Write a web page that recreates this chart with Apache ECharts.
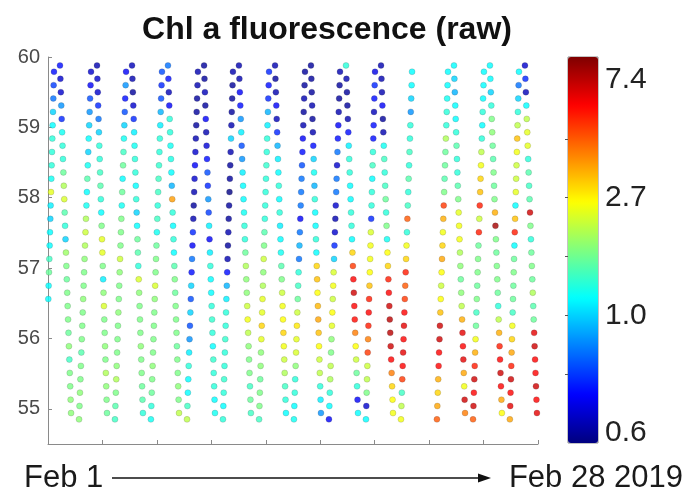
<!DOCTYPE html>
<html><head><meta charset="utf-8">
<script src="https://cdn.jsdelivr.net/npm/echarts@6/dist/echarts.min.js"></script>
<style>html,body{margin:0;padding:0;background:#fff}#c{width:685px;height:500px}</style>
</head><body><div id="c"></div>
<script>
// Sampling latitudes (north to south) for southbound and northbound crossings
const latsSouthbound = [59.88, 59.69, 59.50, 59.31, 59.12, 58.93, 58.74, 58.55, 58.36, 58.17, 57.98, 57.79, 57.60, 57.41, 57.22, 57.03, 56.84, 56.65, 56.46, 56.27, 56.08, 55.89, 55.70, 55.51, 55.32, 55.13, 54.94];
const latsNorthbound = [59.79, 59.60, 59.41, 59.22, 59.03, 58.84, 58.65, 58.46, 58.27, 58.08, 57.89, 57.70, 57.51, 57.32, 57.13, 56.94, 56.75, 56.56, 56.37, 56.18, 55.99, 55.80, 55.61, 55.42, 55.23, 55.04, 54.85];
// Direction of each crossing: 'N' northbound, 'S' southbound
const tripDir = ['N', 'S', 'N', 'S', 'N', 'S', 'N', 'S', 'N', 'S', 'N', 'S', 'N', 'S', 'N', 'S', 'N', 'S', 'N', 'S', 'N', 'N', 'S', 'N', 'S', 'N', 'S'];
// Day (since Feb 1) at which each crossing is at its northern / southern end
const tripTopDay = [0.33, 0.66, 2.37, 2.70, 4.30, 4.63, 6.28, 6.61, 8.26, 8.60, 10.19, 10.52, 12.18, 12.51, 14.16, 14.49, 16.09, 16.42, 18.02, 18.35, 20.06, 22.04, 22.37, 24.02, 24.35, 25.95, 26.28];
const tripBottomDay = [-0.15, 1.27, 1.71, 3.25, 3.69, 5.23, 5.67, 7.22, 7.66, 9.20, 9.64, 11.18, 11.63, 13.11, 13.55, 15.04, 15.48, 17.08, 17.52, 19.01, 19.45, 21.43, 22.98, 23.42, 25.01, 25.45, 26.94];
// Chl a fluorescence (raw) per crossing, listed north to south
const chlTrips = [
  [0.72, 0.78, 0.85, 1.0, 1.15, 1.3, 1.3, 1.3, 1.2, 2.4, 1.1, 1.0, 1.15, 1.15, 1.4, 1.6, 1.15, 1.15],
  [0.72, 0.65, 0.65, 0.9, 0.75, 1.2, 1.3, 1.3, 1.6, 2.0, 2.3, 1.5, 1.3, 1.0, 1.9, 1.7, 1.6, 1.7, 1.7, 1.7, 1.6, 1.8, 1.4, 1.7, 1.7, 1.8, 1.8],
  [0.65, 0.7, 0.8, 0.9, 1.0, 1.15, 1.0, 1.2, 1.5, 1.15, 1.2, 2.0, 2.2, 2.0, 1.8, 1.7, 1.7, 1.8, 1.7, 1.7, 1.7, 1.5, 1.7, 1.7, 1.8, 1.7, 1.8],
  [0.62, 0.65, 0.65, 0.75, 0.85, 1.0, 1.3, 1.3, 1.4, 1.5, 1.3, 1.15, 1.7, 2.4, 2.4, 1.7, 1.1, 1.8, 2.3, 1.7, 1.7, 1.8, 1.7, 2.0, 1.8, 1.7, 1.6],
  [0.7, 0.9, 0.72, 0.8, 1.0, 1.2, 1.4, 1.6, 1.15, 1.6, 1.2, 1.7, 1.7, 1.7, 2.2, 1.8, 1.7, 1.7, 1.8, 1.7, 1.7, 1.7, 1.8, 2.0, 1.7, 1.5, 1.4],
  [0.63, 0.62, 0.6, 0.65, 0.75, 1.1, 1.2, 1.3, 1.3, 1.15, 1.3, 1.0, 1.15, 1.6, 1.5, 1.3, 2.3, 1.8, 1.7, 1.7, 1.7, 1.8, 1.7, 1.7, 1.6, 1.5, 1.3],
  [0.8, 0.75, 0.8, 0.95, 1.1, 1.3, 1.3, 1.35, 1.4, 1.4, 1.3, 1.4, 1.2, 1.6, 1.7, 1.7, 2.3, 1.8, 1.7, 1.7, 1.7, 1.7, 1.8, 1.7, 1.6, 1.3, 1.2],
  [0.85, 0.72, 0.63, 0.7, 1.3, 1.3, 1.2, 1.25, 1.15, 0.95, 3.6, 1.3, 1.15, 1.3, 1.15, 1.5, 1.7, 1.6, 1.7, 1.7, 1.7, 1.6, 1.7, 1.7, 1.8, 1.7, 2.1],
  [0.62, 0.62, 0.6, 0.6, 0.6, 0.62, 0.65, 0.7, 0.65, 0.62, 0.6, 0.62, 0.75, 0.7, 0.85, 0.72, 1.0, 0.8, 1.0, 0.8, 0.9, 1.1, 1.3, 1.15, 1.15, 1.4, 2.1],
  [0.6, 0.6, 0.63, 0.6, 0.7, 0.62, 0.66, 0.72, 0.8, 0.75, 0.9, 0.78, 1.1, 0.7, 1.1, 1.3, 1.15, 1.15, 1.3, 1.35, 1.3, 1.15, 1.35, 1.3, 1.3, 1.15, 1.2],
  [0.62, 0.6, 0.6, 0.6, 0.62, 1.0, 0.62, 0.6, 0.6, 0.58, 0.6, 0.6, 0.62, 0.6, 0.62, 0.72, 0.95, 1.1, 1.3, 1.3, 1.35, 1.3, 1.3, 1.35, 1.3, 1.15, 1.3],
  [0.62, 0.62, 0.7, 0.72, 0.9, 1.1, 0.8, 0.9, 1.1, 1.15, 1.15, 1.2, 1.3, 1.3, 1.6, 2.0, 1.8, 1.8, 2.2, 2.5, 2.1, 1.8, 1.7, 1.7, 1.4, 1.6, 1.4],
  [0.75, 0.72, 0.75, 0.95, 1.1, 1.3, 1.3, 1.35, 1.3, 1.3, 1.3, 1.3, 1.5, 1.7, 2.2, 1.8, 2.0, 2.4, 2.4, 3.0, 2.4, 1.8, 1.8, 1.6, 1.7, 1.7, 1.4],
  [0.62, 0.6, 0.62, 0.7, 0.63, 0.75, 0.95, 1.1, 1.15, 1.3, 1.15, 1.3, 1.1, 1.15, 1.2, 1.5, 1.7, 2.2, 2.5, 2.6, 3.0, 2.5, 2.2, 2.0, 1.4, 1.3, 1.15],
  [0.6, 0.6, 0.62, 0.6, 0.62, 0.7, 0.72, 0.8, 0.85, 0.85, 0.85, 0.7, 0.85, 0.95, 0.85, 1.3, 1.4, 1.6, 2.2, 2.8, 2.4, 2.3, 1.8, 1.3, 1.3, 1.15, 1.2],
  [0.6, 0.6, 0.6, 0.62, 0.6, 0.62, 0.72, 1.0, 1.2, 0.95, 1.3, 1.15, 1.15, 1.3, 1.15, 3.0, 3.2, 2.6, 3.3, 3.5, 3.2, 2.6, 2.2, 2.1, 1.3, 1.1, 0.9],
  [0.62, 0.6, 0.6, 0.62, 0.7, 0.72, 0.85, 0.65, 0.85, 0.85, 0.65, 0.62, 0.65, 0.75, 1.0, 2.3, 2.5, 2.2, 2.6, 2.4, 1.8, 1.7, 2.1, 2.0, 1.3, 1.15, 0.7],
  [1.3, 0.62, 0.6, 0.6, 0.62, 0.72, 1.1, 1.3, 1.3, 1.15, 1.15, 1.3, 1.3, 1.15, 3.0, 5.0, 6.0, 7.0, 6.0, 5.8, 4.0, 2.6, 2.2, 1.6, 1.3, 0.7, 1.15],
  [0.68, 0.75, 0.72, 0.63, 0.72, 0.72, 1.3, 1.4, 1.15, 1.3, 1.3, 0.75, 2.3, 2.5, 2.5, 2.6, 3.2, 5.5, 6.0, 5.5, 4.0, 5.0, 2.2, 2.1, 1.7, 0.65, 1.15],
  [0.62, 0.62, 0.62, 0.7, 0.6, 0.62, 1.2, 1.4, 1.3, 1.4, 1.6, 1.3, 1.7, 1.2, 2.6, 3.0, 5.5, 6.0, 7.0, 7.5, 7.5, 7.0, 6.0, 4.0, 3.0, 2.6, 2.5],
  [1.15, 1.15, 1.0, 0.9, 1.3, 1.3, 1.4, 1.3, 1.5, 1.3, 1.4, 4.5, 1.3, 2.5, 3.0, 5.5, 4.5, 5.0, 6.0, 6.5, 6.0, 6.5, 6.0, 5.0, 1.4, 2.1, 2.5],
  [1.15, 1.15, 1.2, 1.3, 1.3, 2.0, 1.6, 1.6, 1.5, 1.7, 5.0, 3.4, 2.5, 3.0, 3.5, 2.6, 2.2, 2.6, 3.2, 7.0, 7.0, 6.0, 6.0, 3.4, 3.0, 3.5, 4.5],
  [1.15, 1.0, 0.95, 1.15, 1.15, 1.3, 1.5, 1.3, 1.3, 1.5, 1.7, 2.4, 2.5, 2.5, 2.0, 1.8, 1.6, 1.8, 2.1, 3.4, 6.5, 6.0, 6.5, 3.5, 2.5, 7.0, 4.0],
  [1.15, 1.15, 1.15, 1.3, 1.15, 1.3, 2.1, 2.5, 3.0, 3.2, 5.5, 2.2, 5.5, 1.6, 1.7, 1.7, 1.6, 1.7, 1.4, 1.6, 2.5, 3.4, 5.5, 7.0, 6.0, 7.0, 4.5],
  [1.15, 1.15, 1.0, 1.3, 1.7, 1.8, 1.6, 1.5, 1.7, 1.6, 1.7, 3.4, 8.0, 1.7, 1.6, 1.7, 1.7, 1.6, 1.3, 2.1, 3.4, 5.5, 6.0, 7.0, 6.0, 3.5, 2.6],
  [1.15, 0.85, 1.0, 1.3, 2.1, 3.2, 2.5, 2.2, 2.2, 2.4, 1.15, 3.2, 5.5, 1.15, 1.6, 1.7, 1.6, 1.6, 1.4, 2.5, 3.0, 3.5, 5.5, 7.0, 6.0, 6.5, 3.5],
  [0.65, 0.75, 0.63, 1.15, 2.1, 2.4, 2.4, 1.3, 1.5, 1.4, 1.5, 7.0, 1.7, 1.3, 1.6, 1.7, 1.6, 2.0, 1.5, 1.6, 6.5, 7.0, 6.0, 6.0, 7.0, 6.0, 6.5]
];
const colorTickValues = [0.6, 1.0, 2.7, 7.4];
const colorTickLabels = ['0.6', '1.0', '2.7', '7.4'];
const latTicks = [55, 56, 57, 58, 59, 60];

// colour-bar coordinate: log-spaced between the labelled ticks
const LT = colorTickValues.map(Math.log);
function toBar(v) {
  const l = Math.log(v);
  const k = l < LT[1] ? 0 : (l < LT[2] ? 1 : 2);
  return k + (l - LT[k]) / (LT[k + 1] - LT[k]);
}
const barMin = -0.085, barMax = 3.195;

const data = [];
chlTrips.forEach((vals, t) => {
  const lats = tripDir[t] === 'N' ? latsNorthbound : latsSouthbound;
  const span = lats[0] - lats[lats.length - 1];
  vals.forEach((v, i) => {
    const f = (lats[0] - lats[i]) / span;
    const day = tripTopDay[t] + (tripBottomDay[t] - tripTopDay[t]) * f;
    data.push([day, lats[i], v, toBar(v)]);
  });
});

const jet = ['#00007F', '#0000FF', '#007FFF', '#00FFFF', '#7FFF7F', '#FFFF00', '#FF7F00', '#FF0000', '#7F0000'];
const FONT = 'Arial, "Liberation Sans", sans-serif';

const chart = echarts.init(document.getElementById('c'), null, {renderer: 'canvas'});
chart.setOption({
  animation: false,
  backgroundColor: '#fff',
  title: {
    text: 'Chl a fluorescence (raw)', left: 322, top: 9, textAlign: 'center',
    textStyle: {fontFamily: FONT, fontSize: 32, fontWeight: 'bold', color: '#111'}
  },
  grid: [
    {left: 48, top: 57, width: 490, height: 387},
    {left: 568, top: 57, width: 30, height: 386, show: true, borderColor: '#888', borderWidth: 1, backgroundColor: 'transparent'}
  ],
  xAxis: [
    {type: 'value', gridIndex: 0, min: 0, max: 27, interval: 3,
     axisLine: {show: true, lineStyle: {color: '#8a8a8a', width: 1}},
     axisTick: {show: true, inside: true, length: 4, lineStyle: {color: '#8a8a8a'}},
     axisLabel: {show: false}, splitLine: {show: false}},
    {type: 'value', gridIndex: 1, min: 0, max: 1, show: false}
  ],
  yAxis: [
    {type: 'value', gridIndex: 0, min: 54.5, max: 60,
     axisLine: {show: true, lineStyle: {color: '#8a8a8a', width: 1}},
     axisTick: {show: true, inside: true, length: 4, customValues: latTicks, lineStyle: {color: '#8a8a8a'}},
     axisLabel: {customValues: latTicks, fontFamily: FONT, fontSize: 20, color: '#4a4a4a', margin: 8},
     splitLine: {show: false}},
    {type: 'value', gridIndex: 1, position: 'right', min: barMin, max: barMax,
     axisLine: {show: false},
     axisTick: {show: true, inside: true, length: 3, customValues: [0.5, 1, 1.5, 2, 2.5], lineStyle: {color: '#555'}},
     axisLabel: {customValues: colorTickValues.map(toBar), fontFamily: FONT, fontSize: 30, color: '#222', margin: 7,
       formatter: v => colorTickLabels[Math.round(v)]},
     splitLine: {show: false}}
  ],
  visualMap: {
    type: 'continuous', seriesIndex: 0, dimension: 3, min: barMin, max: barMax,
    inRange: {color: jet}, left: 568, top: 57, itemWidth: 30, itemHeight: 386,
    padding: 0, calculable: false, hoverLink: false, z: 1
  },
  series: [{
    type: 'scatter', xAxisIndex: 0, yAxisIndex: 0, data: data,
    symbolSize: 6, itemStyle: {opacity: 0.8, borderColor: 'rgba(40,40,40,0.35)', borderWidth: 0.6}, clip: true
  }],
  graphic: [
    {type: 'text', style: {text: 'Feb 1', x: 24, y: 478, fill: '#1a1a1a', font: '31px ' + FONT, verticalAlign: 'middle', align: 'left'}},
    {type: 'text', style: {text: 'Feb 28 2019', x: 683, y: 478, fill: '#1a1a1a', font: '31px ' + FONT, verticalAlign: 'middle', align: 'right'}},
    {type: 'line', shape: {x1: 112, y1: 478, x2: 482, y2: 478}, style: {stroke: '#111', lineWidth: 1.5}},
    {type: 'polygon', shape: {points: [[478, 473.5], [491, 478], [478, 482.5]]}, style: {fill: '#111'}}
  ]
});
</script>
</body></html>
